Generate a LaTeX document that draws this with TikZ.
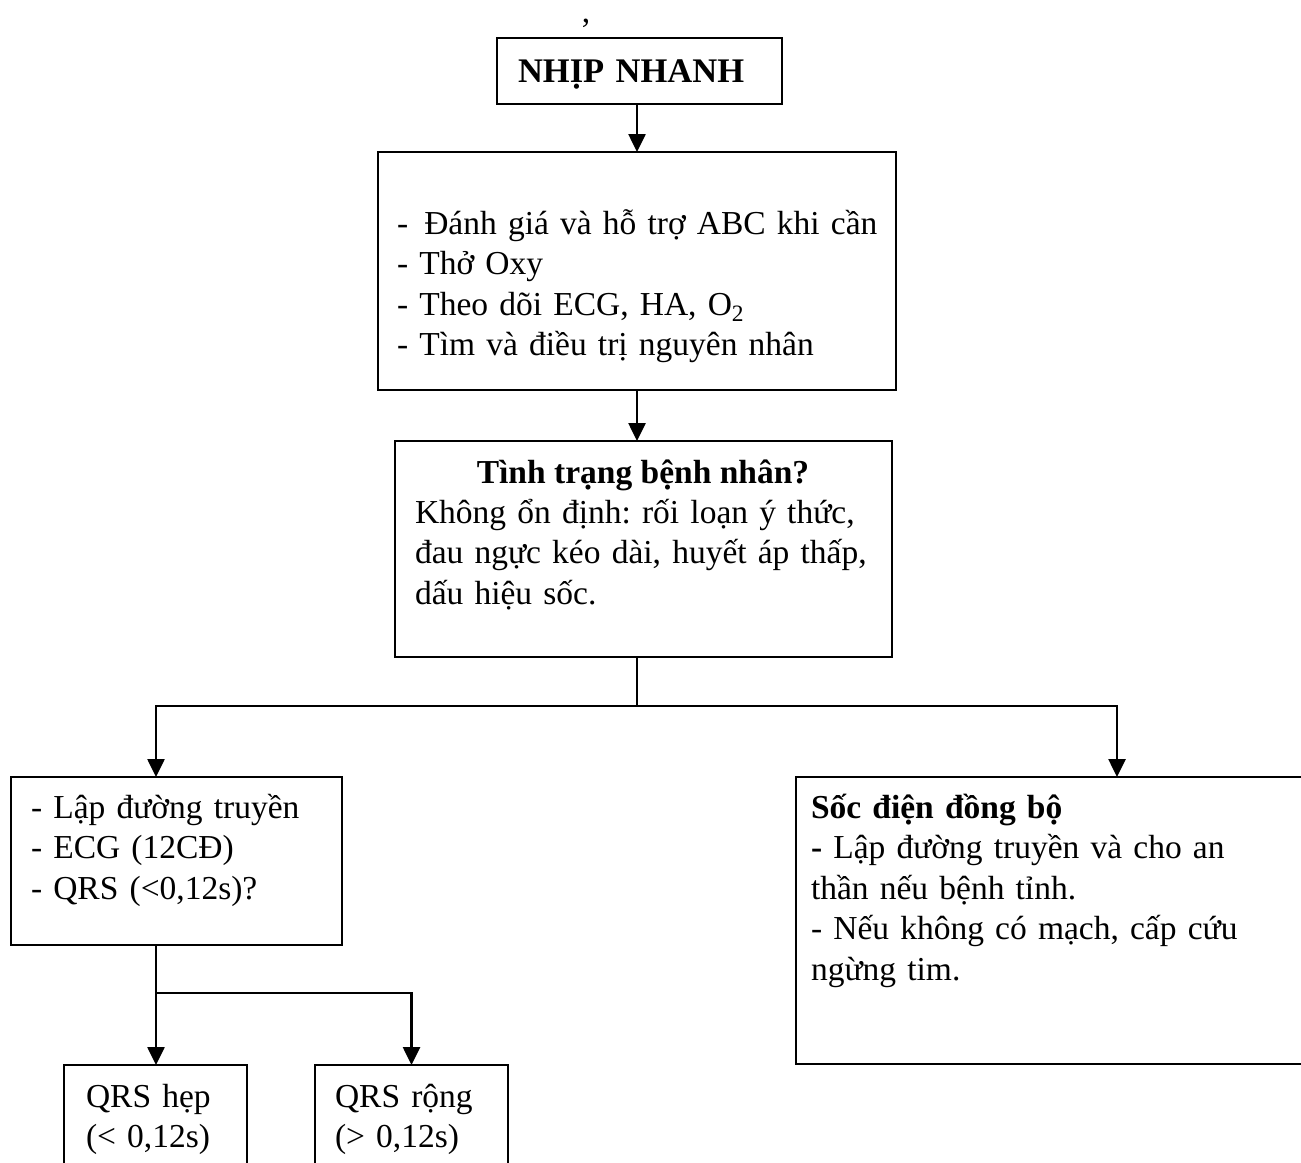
\documentclass[tikz,border=0pt]{standalone}
\usepackage{fontspec}
\setmainfont{Liberation Serif}
\usetikzlibrary{arrows.meta}

\newcommand\bodyfont{\fontsize{33.5}{40.5}\selectfont\frenchspacing}

\begin{document}
\begin{tikzpicture}[x=1pt,y=-1pt,
  every node/.style={inner sep=0pt, outer sep=0pt},
  box/.style={draw, line width=2.6pt, rectangle, anchor=north west},
  txt/.style={anchor=base west, align=left, text width=#1, font=\bodyfont},
  txt/.default=600pt,
  ctr/.style={anchor=base, font=\bodyfont},
  link/.style={line width=2.6pt},
  arr/.style={line width=2.6pt, -{Triangle[width=17pt,length=18pt]}}]

\useasboundingbox (0,0) rectangle (1301,1162);
\clip (0,0) rectangle (1301,1162);

% boxes
\node[box, minimum width=285pt, minimum height=66pt]  (b1) at (497,38)  {};
\node[box, minimum width=518pt, minimum height=238pt] (b2) at (378,152) {};
\node[box, minimum width=497pt, minimum height=216pt] (b3) at (395,441) {};
\node[box, minimum width=331pt, minimum height=168pt] (b4) at (11,777)  {};
\node[box, minimum width=560pt, minimum height=287pt] (b5) at (796,777) {};
\node[box, minimum width=183pt, minimum height=160pt] (b6) at (64,1065) {};
\node[box, minimum width=193pt, minimum height=160pt] (b7) at (315,1065) {};

% texts
\node[ctr] (comma) at (586,22) {,};
\node[txt, font=\fontsize{34.5}{40.5}\selectfont\bfseries] (t1) at (518,82) {NHỊP NHANH};
\node[txt] (t2) at (397,234) {-\hspace{5pt} Đánh giá và hỗ trợ ABC khi cần\\
- Thở Oxy\\
- Theo dõi ECG, HA, O\textsubscript{2}\\
- Tìm và điều trị nguyên nhân};
\node[ctr, font=\bodyfont\bfseries] (t3a) at (643,483) {Tình trạng bệnh nhân?};
\node[txt] (t3b) at (415,523) {Không ổn định: rối loạn ý thức,\\
đau ngực kéo dài, huyết áp thấp,\\
dấu hiệu sốc.};
\node[txt=300pt] (t4) at (31,818) {- Lập đường truyền\\
- ECG (12CĐ)\\
- QRS (<0,12s)?};
\node[txt] (t5) at (811,818) {\textbf{Sốc điện đồng bộ}\\
\textbf{-} Lập đường truyền và cho an\\
thần nếu bệnh tỉnh.\\
- Nếu không có mạch, cấp cứu\\
ngừng tim.};
\node[txt=170pt] (t6) at (86,1107) {QRS hẹp\\
(< 0,12s)};
\node[txt=180pt] (t7) at (335,1107) {QRS rộng\\
(> 0,12s)};

% connectors
\coordinate (mid) at (637,0);
\coordinate (s1) at (637,706);
\coordinate (la) at (156,706);
\coordinate (ra) at (1117,706);
\coordinate (s2) at (156,993);

\draw[arr] (b1.south -| mid) -- (b2.north -| mid);
\draw[arr] (b2.south -| mid) -- (b3.north -| mid);
\draw[link] (b3.south -| mid) -- (s1);
\draw[arr] (s1) -| (la |- b4.north);
\draw[arr] (s1) -| (ra |- b5.north);
\draw[arr] (b4.south -| s2) -- (b6.north -| s2);
\draw[arr] (s2) -| (b7.north);
\end{tikzpicture}
\end{document}
